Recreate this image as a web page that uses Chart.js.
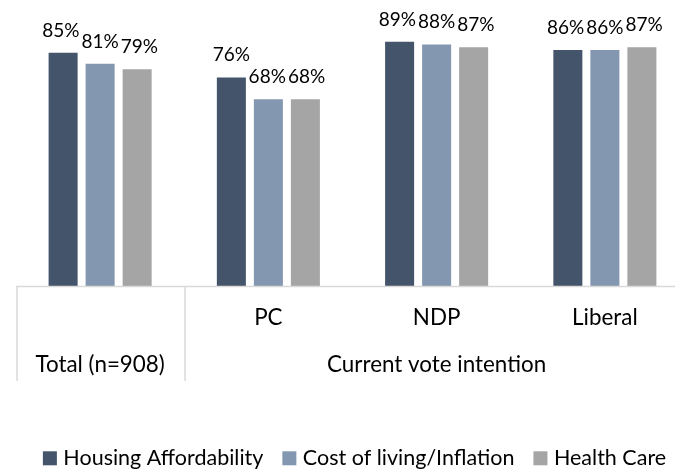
<!DOCTYPE html>
<html>
<head>
<meta charset="utf-8">
<script src="https://cdn.jsdelivr.net/npm/chart.js@4"></script>
<style>
html,body{margin:0;padding:0;overflow:hidden;background:#fff;width:675px;height:470px}
#wrap{width:675px;height:470px;overflow:hidden;position:relative}
canvas{display:block}
</style>
</head>
<body>
<div id="wrap"><canvas id="c" width="692" height="470"></canvas></div>
<script>
// ---- data ----
const categories = ['Total (n=908)', 'PC', 'NDP', 'Liberal'];
const tickLabels = ['', 'PC', 'NDP', 'Liberal'];
const groupLabels = ['Total (n=908)', 'Current vote intention'];
const groupSpans = [[0, 0], [1, 3]];
const seriesNames = ['Housing Affordability', 'Cost of living/Inflation', 'Health Care'];
const housing = [85, 76, 89, 86];
const costOfLiving = [81, 68, 88, 86];
const healthCare = [79, 68, 87, 87];

// ---- style ----
const colors = ['#44546a', '#8497b0', '#a5a5a5'];
const FONT = 'Lato';
const VALUE_SIZE = 19;
const AXIS_SIZE = 22.4;
const LEGEND_SIZE = 21.5;
const TEXT = '#000000';
const LINE = '#d9d9d9';

Chart.defaults.font.family = FONT;
Chart.defaults.color = TEXT;

const decor = {
  id: 'decor',
  afterDatasetsDraw(chart) {
    const ctx = chart.ctx;
    const xs = chart.scales.x;
    const ys = chart.scales.y;
    const base = ys.getPixelForValue(0);
    const area = chart.chartArea;
    ctx.save();
    // value labels with simple overlap avoidance inside each category
    ctx.font = VALUE_SIZE + 'px ' + FONT;
    ctx.fillStyle = TEXT;
    ctx.textAlign = 'center';
    ctx.textBaseline = 'alphabetic';
    const nDs = chart.data.datasets.length;
    const capH = VALUE_SIZE * 0.72;
    categories.forEach((c, i) => {
      const items = [];
      for (let di = 0; di < nDs; di++) {
        const bar = chart.getDatasetMeta(di).data[i];
        const txt = chart.data.datasets[di].data[i] + '%';
        const w = ctx.measureText(txt).width;
        items.push({ txt, x: bar.x, y: bar.y - 16, w });
      }
      const gap = 2;
      for (let it = 0; it < 20; it++) {
        let moved = false;
        for (let k = 0; k < items.length - 1; k++) {
          const a = items[k], b = items[k + 1];
          const vOverlap = Math.abs(a.y - b.y) < capH;
          const need = (a.w + b.w) / 2 + gap - (b.x - a.x);
          if (vOverlap && need > 0.1) {
            a.x -= need / 2; b.x += need / 2; moved = true;
          }
        }
        if (!moved) break;
      }
      items.forEach(o => ctx.fillText(o.txt, o.x, o.y));
    });
    // axis line
    const step = xs.getPixelForValue(1) - xs.getPixelForValue(0);
    const edge = i => xs.getPixelForValue(i) - step / 2;
    ctx.strokeStyle = LINE;
    ctx.lineWidth = 1.5;
    ctx.beginPath();
    ctx.moveTo(edge(0), base + 0.5);
    ctx.lineTo(chart.width, base + 0.5);
    ctx.stroke();
    // separators
    groupSpans.forEach(span => {
      const x = Math.round(edge(span[0])) + 1;
      ctx.beginPath();
      ctx.moveTo(x, base);
      ctx.lineTo(x, base + 95);
      ctx.stroke();
    });
    // tick labels
    ctx.font = AXIS_SIZE + 'px ' + FONT;
    ctx.textBaseline = 'middle';
    tickLabels.forEach((t, i) => {
      if (t) ctx.fillText(t, xs.getPixelForValue(i), base + 32);
    });
    // group labels
    groupSpans.forEach((span, gi) => {
      const cx = (edge(span[0]) + edge(span[1] + 1)) / 2;
      ctx.fillText(groupLabels[gi], cx, base + 79);
    });
    // legend (from dataset labels / colours)
    ctx.font = LEGEND_SIZE + 'px ' + FONT;
    ctx.textAlign = 'left';
    const box = 14, boxGap = 6.5, itemGap = 19;
    const ds = chart.data.datasets;
    const widths = ds.map(d => box + boxGap + ctx.measureText(d.label).width);
    const total = widths.reduce((s, w) => s + w, 0) + itemGap * (ds.length - 1);
    let lx = (area.left + area.right) / 2 + 2 - total / 2;
    const ly = base + 172.3;
    ds.forEach((d, k) => {
      ctx.fillStyle = d.backgroundColor;
      ctx.fillRect(lx, ly - box / 2, box, box);
      ctx.fillStyle = TEXT;
      ctx.fillText(d.label, lx + box + boxGap, ly);
      lx += widths[k] + itemGap;
    });
    ctx.restore();
  }
};

new Chart(document.getElementById('c'), {
  type: 'bar',
  data: {
    labels: categories,
    datasets: [
      { label: seriesNames[0], data: housing, backgroundColor: colors[0] },
      { label: seriesNames[1], data: costOfLiving, backgroundColor: colors[1] },
      { label: seriesNames[2], data: healthCare, backgroundColor: colors[2] }
    ]
  },
  options: {
    responsive: false,
    animation: false,
    events: [],
    layout: { padding: { left: 16, right: 3, top: 11.5, bottom: 184 } },
    datasets: { bar: { categoryPercentage: 0.66, barPercentage: 0.784 } },
    scales: {
      x: { display: false },
      y: { display: false, min: 0, max: 100 }
    },
    plugins: {
      tooltip: { enabled: false },
      legend: { display: false }
    }
  },
  plugins: [decor]
});
</script>
</body>
</html>
